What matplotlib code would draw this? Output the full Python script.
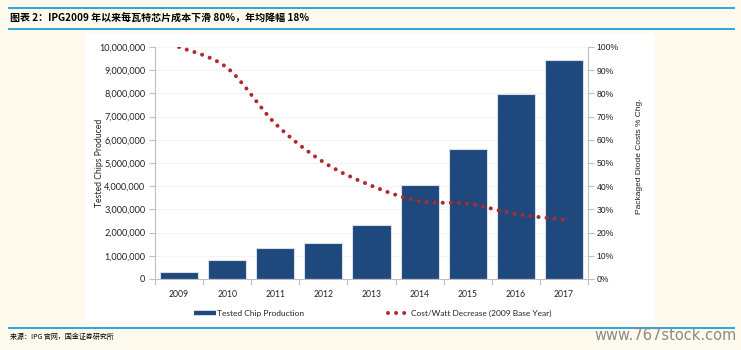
import matplotlib
matplotlib.use("Agg")
import matplotlib.pyplot as plt
import numpy as np
from matplotlib.path import Path
from matplotlib.patches import PathPatch, Rectangle
from matplotlib.lines import Line2D
from matplotlib.ticker import FuncFormatter, MultipleLocator

# ---------------- data ----------------
years = ["2009", "2010", "2011", "2012", "2013", "2014", "2015", "2016", "2017"]
chips = [300000, 800000, 1340000, 1570000, 2330000, 4050000, 5600000, 7970000, 9440000]
cost_pct = [100, 91, 67, 50.4, 40.2, 33.5, 32.5, 28, 25.6]

title = "图表 2：IPG2009 年以来每瓦特芯片成本下滑 80%，年均降幅 18%"
source = "来源：IPG 官网，国金证券研究所"
watermark = "www.767stock.com"
bar_label = "Tested Chip Production"
line_label = "Cost/Watt Decrease (2009 Base Year)"
ylabel_left = "Tested Chips Produced"
ylabel_right = "Packaged Diode Costs % Chg."

BAR_C = "#1F497D"
DOT_C = "#B3282D"
BG = "#FFF9EE"
BLUE = "#1AA0DC"
CJK = ["Noto Sans CJK SC", "DejaVu Sans"]

fig = plt.figure(figsize=(7.41, 3.5), dpi=100, facecolor=BG)

# white panel + rules
fig.patches.append(Rectangle((85/741, 1-323/350), (655-85)/741, (323-33)/350,
                             transform=fig.transFigure, facecolor="white",
                             edgecolor="none", zorder=-5))
for yy in (8, 29, 328):
    fig.add_artist(Line2D([9/741, 734/741], [1-yy/350, 1-yy/350],
                          transform=fig.transFigure, color=BLUE, lw=1.3, zorder=-4))

fig.text(10/741, 1-18.5/350, title, family=CJK, fontsize=7.2, fontweight="black",
         va="center", ha="left", color="black", style="italic")
fig.text(10/741, 1-337/350, source, family=CJK, fontsize=5.0, va="center",
         ha="left", color="black")
fig.text(737/741, 1-335/350, watermark, family="DejaVu Sans", fontsize=10.5,
         va="center", ha="right", color="#8A8A8A")

ax = fig.add_axes([155/741, 1-279/350, (588-155)/741, (279-47)/350])
ax.set_facecolor("none")
x = np.arange(len(years))
bars = ax.bar(x, chips, width=0.79, color=BAR_C, edgecolor="#D5DCE6",
              linewidth=0.8, zorder=2)
ax.set_xlim(-0.5, len(years) - 0.5)
ax.set_ylim(0, 10000000)
ax.yaxis.set_major_locator(MultipleLocator(1000000))
ax.yaxis.set_major_formatter(FuncFormatter(lambda v, p: f"{int(v):,}"))
ax.grid(axis="y", color="#F1F1F1", lw=0.6, zorder=0)
ax.set_axisbelow(True)

ax.set_xticks(x)
ax.set_xticklabels(years, family="Lato", fontsize=6.2, color="#222222")
ax.set_xticks(np.arange(-0.5, len(years)), minor=True)
ax.tick_params(axis="x", which="major", length=0, pad=8)
ax.tick_params(axis="x", which="minor", length=4, color="#BFBFBF", width=0.8)
ax.tick_params(axis="y", length=4, color="#BFBFBF", width=0.8, pad=3,
               labelsize=6.6, labelcolor="#222222")
for lbl in ax.get_yticklabels():
    lbl.set_family("Lato")
for s in ("top", "right"):
    ax.spines[s].set_visible(False)
ax.spines["left"].set_color("#BFBFBF")
ax.spines["bottom"].set_color("#BFBFBF")
ax.spines["left"].set_linewidth(0.8)
ax.spines["bottom"].set_linewidth(0.8)
ax.set_ylabel(ylabel_left, family="Lato", fontsize=6.2, color="#222222")
ax.yaxis.set_label_coords(-0.118, 0.5)

ax2 = ax.twinx()
ax2.set_ylim(0, 100)
ax2.yaxis.set_major_locator(MultipleLocator(10))
ax2.yaxis.set_major_formatter(FuncFormatter(lambda v, p: f"{int(round(v))}%"))
ax2.tick_params(axis="y", length=4, color="#BFBFBF", width=0.8, pad=2,
                labelsize=6.2, labelcolor="#222222")
for lbl in ax2.get_yticklabels():
    lbl.set_family("Liberation Sans")
for s in ("top", "left", "bottom"):
    ax2.spines[s].set_visible(False)
ax2.spines["right"].set_color("#BFBFBF")
ax2.spines["right"].set_linewidth(0.8)
ax2.set_ylabel(ylabel_right, family="Liberation Sans", fontsize=6,
               color="#222222")
ax2.yaxis.set_label_coords(1.11, 0.53)

# smoothed (Catmull-Rom style) dotted curve through the yearly values
pts = np.column_stack([x, cost_pct]).astype(float)
verts = [pts[0]]
codes = [Path.MOVETO]
n = len(pts)
for i in range(n - 1):
    p0 = pts[i - 1] if i > 0 else pts[i]
    p1 = pts[i]
    p2 = pts[i + 1]
    p3 = pts[i + 2] if i + 2 < n else pts[i + 1]
    c1 = p1 + (p2 - p0) / 6.0
    c2 = p2 - (p3 - p1) / 6.0
    verts += [c1, c2, p2]
    codes += [Path.CURVE4] * 3
curve = PathPatch(Path(verts, codes), facecolor="none", edgecolor=DOT_C,
                  linewidth=2.9, linestyle=(0, (0.01, 2.0)), capstyle="round",
                  transform=ax2.transData, zorder=3)
ax2.add_patch(curve)

handles = [Line2D([], [], color=BAR_C, lw=3.2, solid_capstyle="butt"),
           Line2D([], [], color=DOT_C, lw=2.9, linestyle=(0, (0.01, 2.0)),
                  dash_capstyle="round")]
leg = ax.legend(handles, [bar_label, line_label], ncol=2, loc="center",
                bbox_to_anchor=(0.503, -0.147), frameon=False,
                handlelength=2.6, handletextpad=0.2, columnspacing=10,
                prop={"family": "Lato", "size": 6})
for t in leg.get_texts():
    t.set_color("#222222")

fig.savefig("out.png", dpi=100, facecolor=BG)
